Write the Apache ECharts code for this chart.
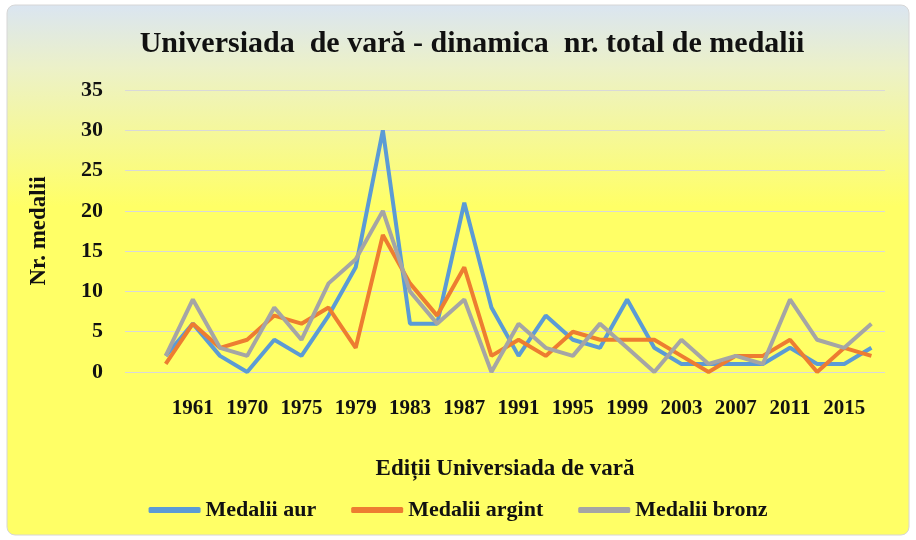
<!DOCTYPE html>
<html lang="ro">
<head>
    <meta charset="UTF-8">
    <title>Universiada de vară</title>
    <style>
        html, body { margin: 0; padding: 0; background: #fff; }
    </style>
</head>
<body>
    <div id="chart" style="width:916px;height:540px;"></div>

    <script src="https://cdn.jsdelivr.net/npm/echarts@6/dist/echarts.min.js"></script>
    <script>
// editii (prima categorie e goala, ca in original)
var editii = ['', '1959', '1961', '1965', '1970', '1973', '1975', '1977', '1979', '1981',
    '1983', '1985', '1987', '1989', '1991', '1993', '1995', '1997', '1999', '2001',
    '2003', '2005', '2007', '2009', '2011', '2013', '2015', '2017'];

var medaliiAur = [null, 2, 6, 2, 0, 4, 2, 7, 13, 30, 6, 6, 21, 8, 2, 7, 4, 3, 9, 3, 1, 1, 1, 1, 3, 1, 1, 3];
var medaliiArgint = [null, 1, 6, 3, 4, 7, 6, 8, 3, 17, 11, 7, 13, 2, 4, 2, 5, 4, 4, 4, 2, 0, 2, 2, 4, 0, 3, 2];
var medaliiBronz = [null, 2, 9, 3, 2, 8, 4, 11, 14, 20, 10, 6, 9, 0, 6, 3, 2, 6, 3, 0, 4, 1, 2, 1, 9, 4, 3, 6];

var font = 'Liberation Serif';

var chart = echarts.init(document.getElementById('chart'));

function linie(nume, date, culoare) {
    return {
        name: nume,
        type: 'line',
        data: date,
        symbol: 'none',
        lineStyle: { color: culoare, width: 4 },
        itemStyle: { color: culoare }
    };
}

chart.setOption({
    animation: false,
    graphic: [{
        type: 'rect',
        z: -10,
        shape: { x: 7, y: 5, width: 902, height: 530, r: 8 },
        style: {
            fill: {
                type: 'linear', x: 0, y: 0, x2: 0, y2: 1,
                colorStops: [
                    { offset: 0, color: '#dae5f1' },
                    { offset: 0.12, color: '#ecf1c8' },
                    { offset: 0.38, color: '#ffff66' },
                    { offset: 1, color: '#ffff66' }
                ]
            },
            stroke: '#d6d6d6',
            lineWidth: 1
        }
    }],
    title: {
        text: 'Universiada  de vară - dinamica  nr. total de medalii',
        left: 467,
        textAlign: 'center',
        top: 24,
        textStyle: { fontFamily: font, fontWeight: 'bold', fontSize: 30, color: '#111' }
    },
    grid: { left: 125, right: 31, top: 90, bottom: 168 },
    legend: {
        bottom: 14,
        left: 'center',
        itemGap: 35,
        itemWidth: 52,
        itemHeight: 6,
        icon: 'roundRect',
        textStyle: { fontFamily: font, fontWeight: 'bold', fontSize: 22, color: '#111' },
        data: ['Medalii aur', 'Medalii argint', 'Medalii bronz']
    },
    xAxis: {
        type: 'category',
        data: editii,
        boundaryGap: true,
        name: 'Ediții Universiada de vară',
        nameLocation: 'middle',
        nameGap: 86,
        nameTextStyle: { fontFamily: font, fontWeight: 'bold', fontSize: 23, color: '#111' },
        axisLine: { show: false },
        axisTick: { show: false },
        axisLabel: {
            interval: 1,
            margin: 26,
            fontFamily: font, fontWeight: 'bold', fontSize: 21, color: '#111'
        }
    },
    yAxis: {
        type: 'value',
        min: 0,
        max: 35,
        interval: 5,
        name: 'Nr. medalii',
        nameLocation: 'middle',
        nameGap: 74,
        nameTextStyle: { fontFamily: font, fontWeight: 'bold', fontSize: 23, color: '#111' },
        axisLine: { show: false },
        axisTick: { show: false },
        axisLabel: { margin: 22, fontFamily: font, fontWeight: 'bold', fontSize: 22, color: '#111' },
        splitLine: { lineStyle: { color: '#d9d9d9', width: 1 } }
    },
    series: [
        linie('Medalii aur', medaliiAur, '#5b9bd5'),
        linie('Medalii argint', medaliiArgint, '#ed7d31'),
        linie('Medalii bronz', medaliiBronz, '#a5a5a5')
    ]
});
    </script>
</body>
</html>
